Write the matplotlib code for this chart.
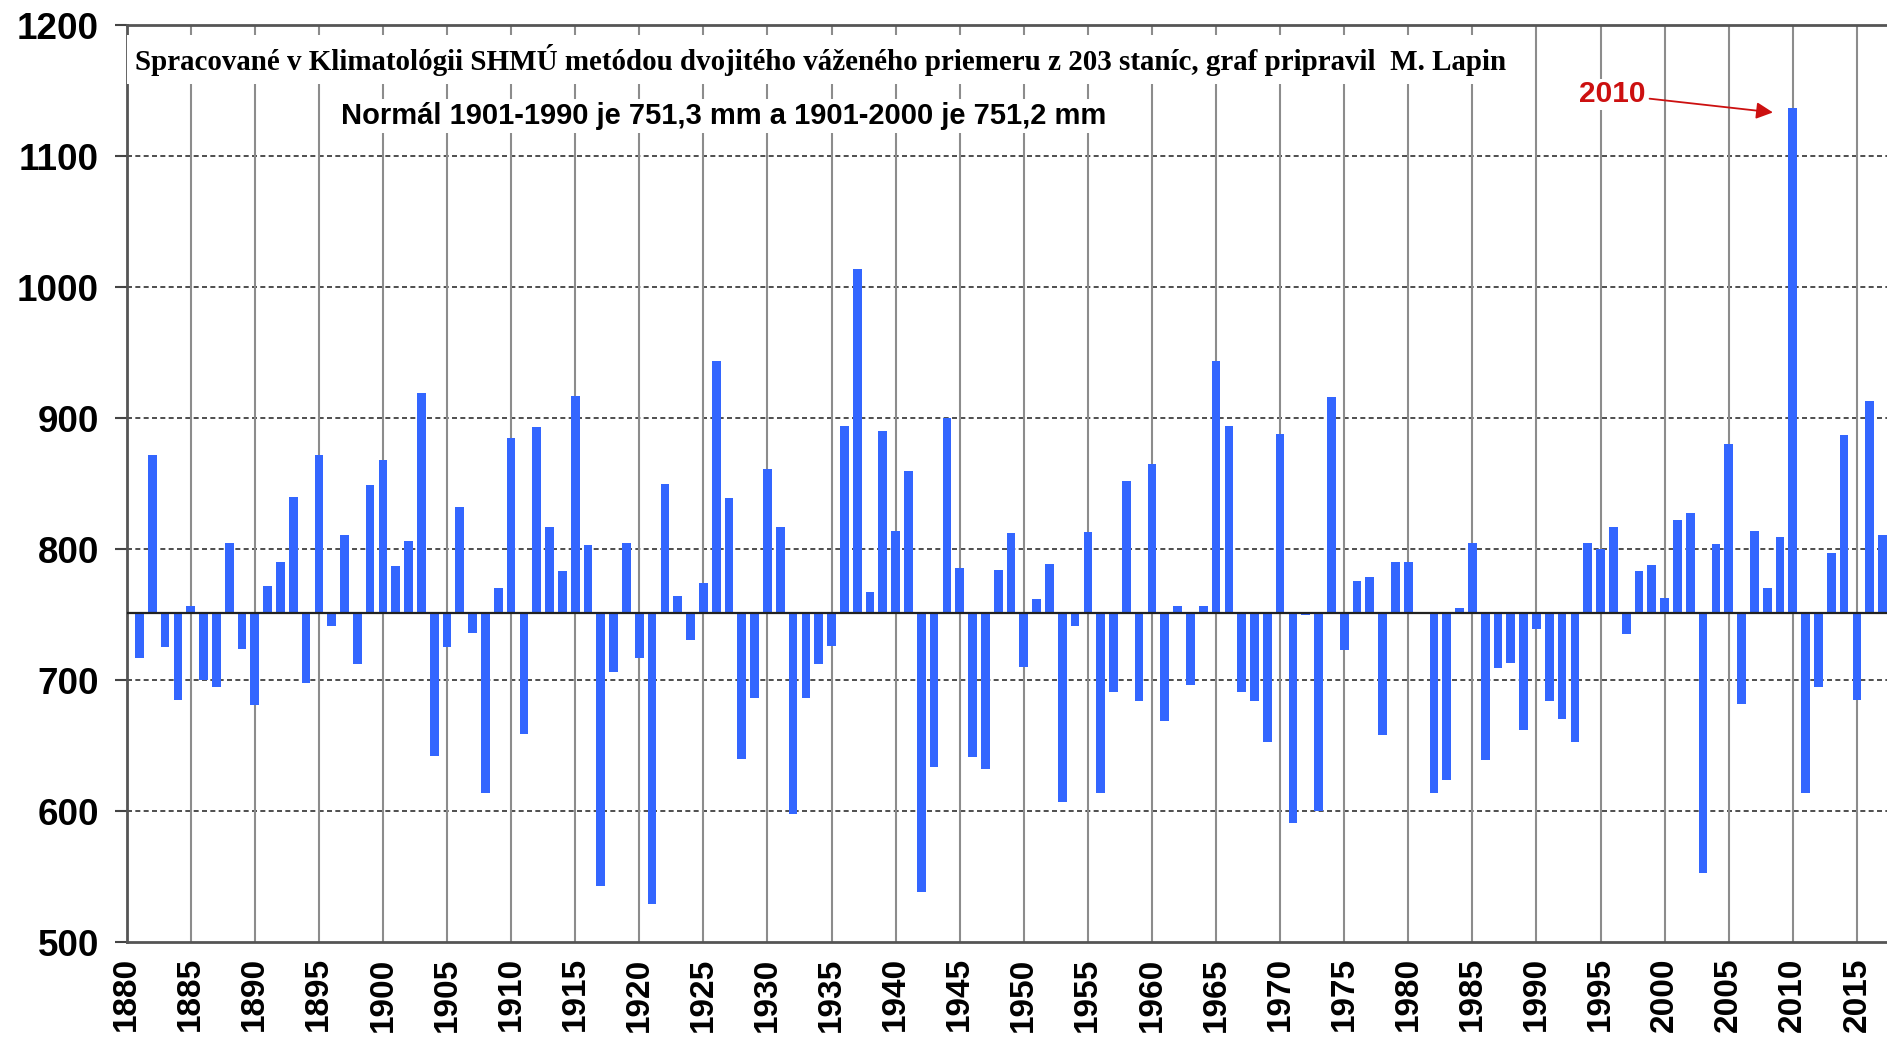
import numpy as np
import matplotlib
matplotlib.use('Agg')
import matplotlib.pyplot as plt

# annual precipitation totals (mm), Slovakia, 1881-2017
first_year = 1881
precip = [717, 872, 725, 685, 757, 700, 695, 805, 724, 681,
          772, 790, 840, 698, 872, 741, 811, 712, 849, 868,
          787, 806, 919, 642, 725, 832, 736, 614, 770, 885,
          659, 893, 817, 783, 917, 803, 543, 706, 805, 717,
          529, 850, 764, 731, 774, 944, 839, 640, 686, 861,
          817, 598, 686, 712, 726, 894, 1014, 767, 890, 814,
          860, 538, 634, 900, 786, 641, 632, 784, 812, 710,
          762, 789, 607, 741, 813, 614, 691, 852, 684, 865,
          669, 757, 696, 757, 944, 894, 691, 684, 653, 888,
          591, 750, 600, 916, 723, 776, 779, 658, 790, 790,
          752, 614, 624, 755, 805, 639, 709, 713, 662, 739,
          684, 670, 653, 805, 800, 817, 735, 783, 788, 763,
          822, 828, 553, 804, 880, 682, 814, 770, 809, 1137,
          614, 695, 797, 887, 685, 913, 811]
years = np.arange(first_year, first_year + len(precip))
normal = 751.3

tick_years = list(range(1880, 2016, 5))
y_ticks = [500, 600, 700, 800, 900, 1000, 1100, 1200]

note_text = ('Spracované v Klimatológii SHMÚ metódou dvojitého váženého priemeru '
             'z 203 staníc, graf pripravil  M. Lapin')
normal_text = 'Normál 1901-1990 je 751,3 mm a 1901-2000 je 751,2 mm'

plt.rcParams['font.family'] = ['Liberation Sans', 'DejaVu Sans']

fig = plt.figure(figsize=(18.87, 10.49), dpi=100)
ax = fig.add_axes([0.0671, 0.102, 1.0 - 0.0671, 0.8737])

# grid
for yv in y_ticks[1:-1]:
    ax.axhline(yv, color='#303030', lw=1.2, ls=(0, (3, 2)), zorder=1)
for xv in tick_years[1:]:
    ax.axvline(xv, color='#8c8c8c', lw=1.5, zorder=1)

ax.bar(years, np.array(precip) - normal, bottom=normal, width=0.68,
       color='#3366FF', zorder=3)
ax.axhline(normal, color='#222222', lw=1.6, zorder=4)

ax.set_xlim(1880, 2017.35)
ax.set_ylim(500, 1200)
ax.set_yticks(y_ticks)
ax.set_yticklabels([str(v) for v in y_ticks], fontsize=26.5, fontweight='bold')
ax.set_xticks(tick_years)
ax.set_xticklabels([str(v) for v in tick_years], rotation=90, fontsize=24,
                   fontweight='bold')
ax.tick_params(axis='y', length=9, width=1.5, color='#444444', pad=11)
ax.tick_params(axis='x', length=0, pad=11)

for side in ['left', 'bottom', 'top']:
    ax.spines[side].set_color('#555555')
    ax.spines[side].set_linewidth(2)
ax.spines['right'].set_visible(False)

ax.text(1880.66, 1174, note_text, family='Liberation Serif', fontsize=20.9,
        fontweight='bold', ha='left', va='center', zorder=5,
        bbox=dict(facecolor='white', edgecolor='none', pad=6))
ax.text(1896.7, 1131, normal_text, fontsize=21, fontweight='bold',
        ha='left', va='center', zorder=5,
        bbox=dict(facecolor='white', edgecolor='none', pad=2))

ax.annotate('2010', xy=(2008.45, 1133.6), xytext=(1995.9, 1147.3),
            color='#CC1010', fontsize=21.5, fontweight='bold',
            ha='center', va='center', zorder=6,
            bbox=dict(facecolor='white', edgecolor='none', pad=1),
            arrowprops=dict(arrowstyle='-|>', color='#CC1010', lw=1.3,
                            mutation_scale=25, shrinkA=2, shrinkB=0))

fig.savefig('out.png', dpi=100)
